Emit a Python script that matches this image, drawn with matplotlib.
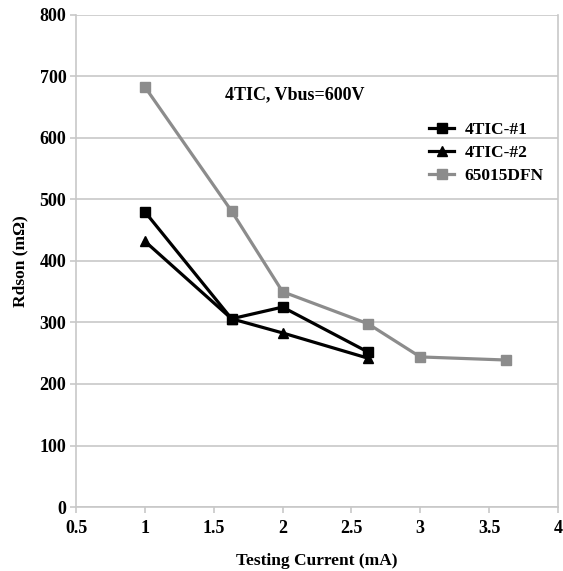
import matplotlib
matplotlib.use("Agg")
import matplotlib.pyplot as plt

# Rdson vs testing current
current_tic1 = [1.0, 1.63, 2.0, 2.62]
rdson_tic1 = [480, 306, 325, 252]

current_tic2 = [1.0, 1.63, 2.0, 2.62]
rdson_tic2 = [432, 306, 283, 242]

current_dfn = [1.0, 1.63, 2.0, 2.62, 3.0, 3.62]
rdson_dfn = [683, 481, 350, 298, 244, 239]

series_labels = ['4TIC-#1', '4TIC-#2', '65015DFN']
xticks = [0.5, 1, 1.5, 2, 2.5, 3, 3.5, 4]
xtick_labels = ['0.5', '1', '1.5', '2', '2.5', '3', '3.5', '4']
yticks = [0, 100, 200, 300, 400, 500, 600, 700, 800]

plt.rcParams['font.family'] = ['Liberation Serif', 'DejaVu Serif']
plt.rcParams['font.weight'] = 'bold'

fig = plt.figure(figsize=(5.63, 5.71), dpi=100)
ax = fig.add_axes([0.135, 0.112, 0.856, 0.862])

gridc = '#c8c8c8'
grayc = '#8c8c8c'

ax.plot(current_tic1, rdson_tic1, color='black', lw=2.3, marker='s', ms=7, label=series_labels[0], zorder=3)
ax.plot(current_tic2, rdson_tic2, color='black', lw=2.3, marker='^', ms=7, label=series_labels[1], zorder=3)
ax.plot(current_dfn, rdson_dfn, color=grayc, lw=2.3, marker='s', ms=7, label=series_labels[2], zorder=2)

ax.set_xlim(0.5, 4)
ax.set_ylim(0, 800)
ax.set_xticks(xticks)
ax.set_xticklabels(xtick_labels)
ax.set_yticks(yticks)
ax.yaxis.grid(True, color=gridc, lw=1.2)
ax.set_axisbelow(True)

for side in ['left', 'bottom', 'right']:
    ax.spines[side].set_color(gridc)
    ax.spines[side].set_linewidth(1.2)
ax.spines['top'].set_visible(False)
ax.tick_params(axis='both', colors=gridc, labelcolor='black', labelsize=13, length=4, width=1.2)
ax.tick_params(axis='x', pad=5)
ax.tick_params(axis='y', pad=3)

ax.set_xlabel('Testing Current (mA)', fontsize=12.5, fontweight='bold', labelpad=12)
ax.set_ylabel('Rdson (m\u03a9)', fontsize=12.5, fontweight='bold', labelpad=8)

ax.text(1.58, 670, '4TIC, Vbus=600V', fontsize=13, fontweight='bold', va='center')

leg = ax.legend(loc='upper left', bbox_to_anchor=(0.70, 0.815), frameon=False,
                handlelength=1.45, handletextpad=0.6, labelspacing=0.4,
                prop={'weight': 'bold', 'size': 12.5})

fig.savefig('out.png', dpi=100)
